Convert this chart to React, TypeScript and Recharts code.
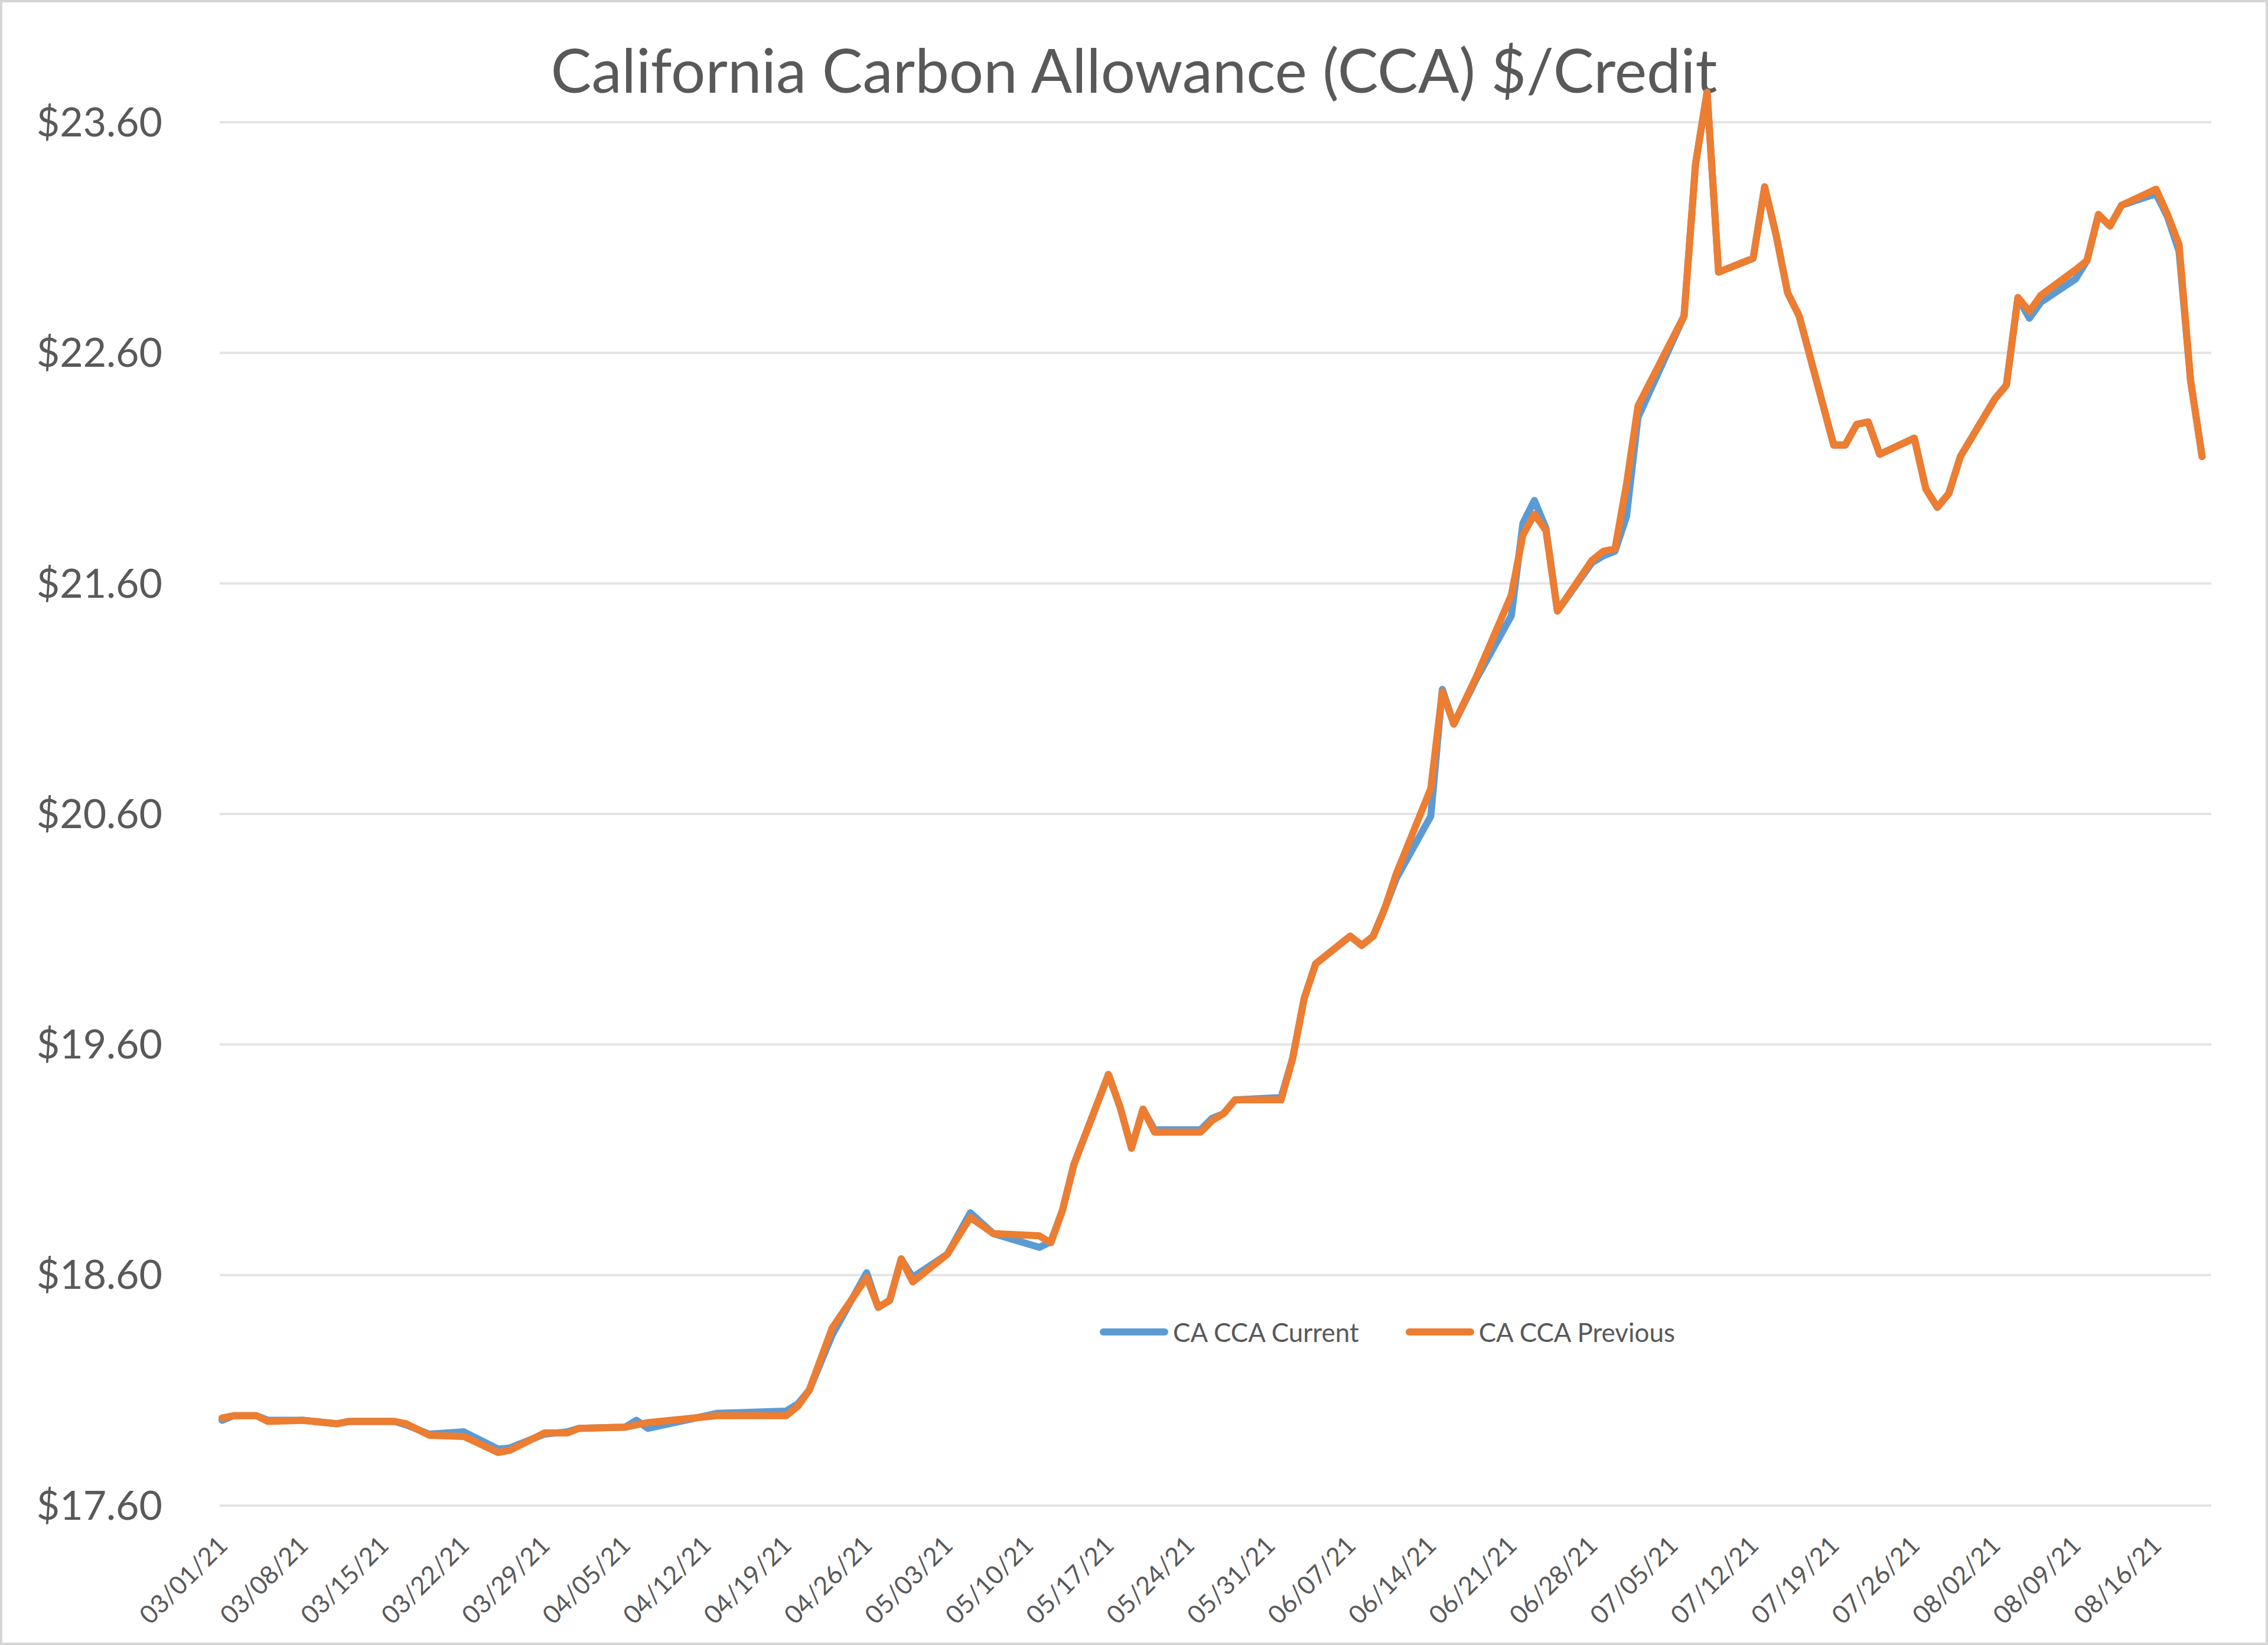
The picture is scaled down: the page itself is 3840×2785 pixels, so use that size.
import React from 'react';
import { LineChart, Line, XAxis, YAxis, CartesianGrid, Legend } from 'recharts';

// trading days where the lines change direction
const tradeDates = [
  '03/01/21', '03/02/21', '03/04/21', '03/05/21', '03/08/21', '03/11/21', '03/12/21', '03/16/21',
  '03/17/21', '03/19/21', '03/22/21', '03/25/21', '03/26/21', '03/29/21', '03/31/21', '04/01/21',
  '04/05/21', '04/06/21', '04/07/21', '04/13/21', '04/19/21', '04/20/21', '04/21/21', '04/23/21',
  '04/26/21', '04/27/21', '04/28/21', '04/29/21', '04/30/21', '05/03/21', '05/05/21', '05/07/21',
  '05/11/21', '05/12/21', '05/13/21', '05/14/21', '05/17/21', '05/18/21', '05/19/21', '05/20/21',
  '05/21/21', '05/25/21', '05/26/21', '05/27/21', '05/28/21', '06/01/21', '06/02/21', '06/03/21',
  '06/04/21', '06/07/21', '06/08/21', '06/09/21', '06/10/21', '06/11/21', '06/14/21', '06/15/21',
  '06/16/21', '06/18/21', '06/21/21', '06/22/21', '06/23/21', '06/24/21', '06/25/21', '06/28/21',
  '06/29/21', '06/30/21', '07/01/21', '07/02/21', '07/06/21', '07/07/21', '07/08/21', '07/09/21',
  '07/12/21', '07/13/21', '07/14/21', '07/15/21', '07/16/21', '07/19/21', '07/20/21', '07/21/21',
  '07/22/21', '07/23/21', '07/26/21', '07/27/21', '07/28/21', '07/29/21', '07/30/21', '08/02/21',
  '08/03/21', '08/04/21', '08/05/21', '08/06/21', '08/09/21', '08/10/21', '08/11/21', '08/12/21',
  '08/13/21', '08/16/21', '08/17/21', '08/18/21', '08/19/21', '08/20/21',
];

const currentPrices = [
  17.97, 17.99, 17.99, 17.97, 17.97, 17.955, 17.965, 17.965,
  17.95, 17.91, 17.92, 17.845, 17.85, 17.91, 17.92, 17.935,
  17.94, 17.97, 17.935, 18.0, 18.01, 18.04, 18.1, 18.34,
  18.61, 18.46, 18.49, 18.67, 18.59, 18.69, 18.87, 18.78,
  18.72, 18.745, 18.88, 19.08, 19.47, 19.33, 19.15, 19.32,
  19.23, 19.23, 19.28, 19.3, 19.36, 19.37, 19.54, 19.8,
  19.95, 20.07, 20.03, 20.07, 20.19, 20.32, 20.59, 21.14,
  20.99, 21.19, 21.46, 21.86, 21.96, 21.84, 21.48, 21.69,
  21.72, 21.74, 21.89, 22.32, 22.76, 23.42, 23.73, 22.95,
  23.01, 23.32, 23.11, 22.86, 22.76, 22.2, 22.2, 22.29,
  22.3, 22.16, 22.23, 22.01, 21.93, 21.99, 22.15, 22.4,
  22.46, 22.84, 22.75, 22.82, 22.92, 23.0, 23.2, 23.15,
  23.24, 23.29, 23.19, 23.04, 22.48, 22.15,
];

const previousPrices = [
  17.98, 17.99, 17.99, 17.965, 17.97, 17.955, 17.965, 17.965,
  17.955, 17.905, 17.9, 17.83, 17.84, 17.915, 17.915, 17.935,
  17.94, 17.95, 17.96, 17.99, 17.99, 18.03, 18.1, 18.37,
  18.59, 18.46, 18.49, 18.67, 18.57, 18.69, 18.85, 18.78,
  18.77, 18.74, 18.88, 19.08, 19.47, 19.33, 19.15, 19.32,
  19.22, 19.22, 19.27, 19.3, 19.36, 19.36, 19.54, 19.8,
  19.95, 20.07, 20.03, 20.07, 20.19, 20.34, 20.71, 21.13,
  20.99, 21.2, 21.55, 21.81, 21.9, 21.83, 21.48, 21.7,
  21.74, 21.75, 22.03, 22.37, 22.76, 23.42, 23.73, 22.95,
  23.01, 23.32, 23.11, 22.86, 22.76, 22.2, 22.2, 22.29,
  22.3, 22.16, 22.23, 22.01, 21.93, 21.99, 22.15, 22.4,
  22.46, 22.84, 22.78, 22.85, 22.96, 23.0, 23.2, 23.15,
  23.24, 23.31, 23.2, 23.07, 22.48, 22.15,
];

const tickLabels = [
  '03/01/21', '03/08/21', '03/15/21', '03/22/21', '03/29/21', '04/05/21', '04/12/21', '04/19/21',
  '04/26/21', '05/03/21', '05/10/21', '05/17/21', '05/24/21', '05/31/21', '06/07/21', '06/14/21',
  '06/21/21', '06/28/21', '07/05/21', '07/12/21', '07/19/21', '07/26/21', '08/02/21', '08/09/21',
  '08/16/21',
];

const priceTicks = [17.6, 18.6, 19.6, 20.6, 21.6, 22.6, 23.6];

const FONT = 'Lato, "Open Sans", sans-serif';
const TEXT = '#595959';

// days since 03/01/21, so the x axis is a real date axis
const toDay = (s: string) => {
  const [m, d, y] = s.split('/').map(Number);
  return Math.round((Date.UTC(2000 + y, m - 1, d) - Date.UTC(2021, 2, 1)) / 86400000);
};

const data = tradeDates.map((date, i) => ({
  day: toDay(date),
  date,
  current: currentPrices[i],
  previous: previousPrices[i],
}));

const dayTicks = tickLabels.map(toDay);
const labelByDay: Record<number, string> = {};
tickLabels.forEach((l) => { labelByDay[toDay(l)] = l; });

const DateTick = ({ x, y, payload }: any) => {
  const ax = x + 12;
  const ay = y + 70;
  return (
    <text
      x={ax}
      y={ay}
      transform={`rotate(-45, ${ax}, ${ay})`}
      textAnchor="end"
      fill={TEXT}
      fontSize={43}
      fontFamily={FONT}
    >
      {labelByDay[payload.value]}
    </text>
  );
};

const PriceTick = ({ x, y, payload }: any) => (
  <text x={x} y={y} dy="0.35em" textAnchor="end" fill={TEXT} fontSize={68} fontFamily={FONT}>
    {`$${payload.value.toFixed(2)}`}
  </text>
);

const renderLegend = ({ payload }: any) => (
  <div style={{ display: 'flex', alignItems: 'center', fontFamily: FONT }}>
    {(payload || []).map((entry: any, i: number) => (
      <div key={`legend-${i}`} style={{ display: 'flex', alignItems: 'center', marginRight: i === 0 ? 79 : 0 }}>
        <span style={{ width: 116, height: 12, borderRadius: 6, background: entry.color, display: 'inline-block' }} />
        <span style={{ marginLeft: 8, fontSize: 44, lineHeight: 1.2, color: TEXT }}>{entry.value}</span>
      </div>
    ))}
  </div>
);

export default function App() {
  return (
    <div style={{ position: 'absolute', left: 0, top: 0, width: 3840, height: 2785, background: '#ffffff' }}>
      <div
        style={{
          position: 'absolute',
          left: 0,
          top: 66,
          width: 3840,
          textAlign: 'center',
          fontFamily: FONT,
          fontSize: 103,
          lineHeight: '103px',
          color: TEXT,
        }}
      >
        California Carbon Allowance (CCA) $/Credit
      </div>

      <div style={{ position: 'absolute', left: 0, top: 0 }}>
        <LineChart width={3840} height={2785} data={data} margin={{ top: 129, right: 96, bottom: 0, left: 0 }}>
          <CartesianGrid vertical={false} horizontalValues={priceTicks} stroke="#E4E4E4" strokeWidth={4} />
          <XAxis
            type="number"
            dataKey="day"
            domain={[-0.2, 172.8]}
            ticks={dayTicks}
            interval={0}
            height={236}
            axisLine={false}
            tickLine={false}
            tickSize={0}
            tickMargin={0}
            tick={<DateTick />}
          />
          <YAxis
            type="number"
            domain={[17.6, 23.8]}
            ticks={priceTicks}
            interval={0}
            width={372}
            axisLine={false}
            tickLine={false}
            tickSize={0}
            tickMargin={97}
            tick={<PriceTick />}
          />
          <Legend
            layout="horizontal"
            verticalAlign="middle"
            align="center"
            wrapperStyle={{ left: 1862, top: 2229 }}
            content={renderLegend}
          />
          <Line
            type="linear"
            dataKey="current"
            name="CA CCA Current"
            stroke="#5B9BD5"
            strokeWidth={12}
            strokeLinejoin="round"
            strokeLinecap="round"
            dot={false}
            isAnimationActive={false}
          />
          <Line
            type="linear"
            dataKey="previous"
            name="CA CCA Previous"
            stroke="#ED7D31"
            strokeWidth={12}
            strokeLinejoin="round"
            strokeLinecap="round"
            dot={false}
            isAnimationActive={false}
          />
        </LineChart>
      </div>

      <div
        style={{
          position: 'absolute',
          left: 0,
          top: 0,
          width: 3840,
          height: 2785,
          boxSizing: 'border-box',
          border: '4px solid #D6D6D6',
          pointerEvents: 'none',
        }}
      />
    </div>
  );
}
